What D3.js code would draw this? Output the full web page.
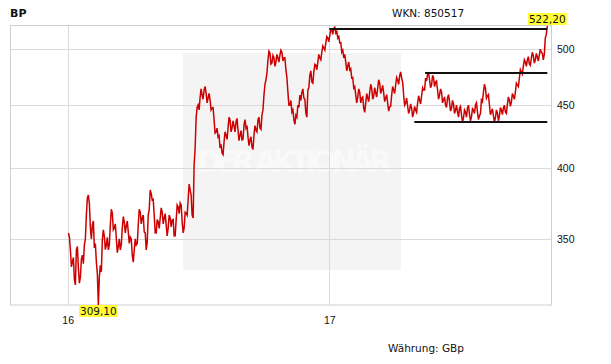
<!DOCTYPE html>
<html>
<head>
<meta charset="utf-8">
<script src="https://cdn.jsdelivr.net/npm/d3@7"></script>
<style>
  body { margin: 0; background: #fff; }
  svg { display: block; font-family: "DejaVu Sans", Verdana, sans-serif; }
</style>
</head>
<body>
<svg id="chart" width="611" height="364"></svg>
<script>
// BP closing prices (GBp), evenly spaced from Jan 2016 to Nov 2017
const startDate = '2016-01-02';
const endDate = '2017-11-02';
const prices = [
  353.9, 351, 342.8, 332, 335.1, 338, 323.9, 321, 342.8, 345,
  331.4, 322, 325.8, 337, 339.5, 334, 346.0, 350, 366.0, 378,
  380.1, 374, 357.3, 350, 359.2, 362, 344.1, 347, 335.1, 328,
  309.1, 326, 333.0, 329, 349.3, 356, 351.9, 343, 346.0, 351,
  342.8, 346, 359.2, 370, 367.4, 356, 357.3, 360, 350.6, 341,
  344.8, 350, 342.8, 346, 357.3, 365, 361.3, 354, 358.6, 362,
  354.6, 347, 351.2, 350, 339.5, 335, 342.8, 350, 346.0, 347,
  359.2, 370, 368.1, 360, 364.0, 366, 354.6, 354, 342.8, 348,
  366.0, 370, 383.7, 381, 376.5, 377, 366.0, 354, 353.9, 363,
  361.3, 357, 364.0, 371, 368.1, 360, 364.0, 367, 359.2, 352,
  357.3, 366, 364.0, 358, 362.7, 363, 351.9, 352, 362.7, 373,
  371.6, 367, 374.4, 373, 361.3, 354, 357.3, 368, 367.4, 366,
  376.5, 388, 383.7, 380, 366.0, 364, 402.1, 415, 439.3, 448,
  450.1, 446, 456.9, 464, 458.6, 455, 463.0, 466, 460.4, 452,
  456.1, 460, 454.4, 446, 447.6, 448, 437.7, 427, 427.8, 431,
  423.9, 425, 415.2, 418, 411.3, 410, 419.9, 428, 425.4, 422,
  431.1, 440, 437.7, 428, 431.1, 437, 432.7, 428, 436.0, 439,
  429.4, 421, 425.4, 429, 421.5, 422, 433.5, 438, 431.1, 433,
  423.9, 417, 421.5, 424, 416.0, 414, 425.4, 433, 429.4, 428,
  437.7, 440, 431.1, 430, 441.7, 446, 458.6, 468, 471.8, 478,
  489.9, 498, 496.3, 486, 487.1, 494, 491.7, 484, 488.0, 495,
  491.7, 488, 494.4, 499, 497.2, 489, 491.7, 492, 480.8, 474,
  461.2, 450, 450.1, 454, 444.2, 446, 437.7, 434, 441.7, 440,
  450.1, 448, 458.6, 454, 461.2, 464, 456.1, 455, 443.4, 440,
  463.0, 465, 476.2, 480, 470.0, 469, 478.9, 486, 485.2, 481,
  488.0, 495, 491.7, 490, 497.2, 503, 501.0, 499, 505.8, 512,
  510.6, 507, 513.4, 519, 518.3, 514, 520.2, 521, 515.3, 517,
  510.6, 512, 505.8, 506, 497.2, 499, 491.7, 495, 488.0, 480,
  484.4, 488, 480.8, 482, 473.6, 474, 464.7, 466, 458.6, 452,
  456.9, 464, 461.2, 452, 456.1, 457, 447.6, 444, 451.8, 460,
  456.1, 453, 461.2, 468, 464.7, 455, 457.8, 465, 460.4, 457,
  464.7, 472, 469.1, 460, 463.0, 467, 460.4, 453, 456.1, 459,
  451.8, 445, 448.5, 449, 458.6, 466, 463.0, 460, 467.4, 474,
  471.8, 468, 475.4, 479, 473.6, 470, 458.6, 450, 451.8, 456,
  449.3, 443, 445.9, 451, 447.6, 440, 443.4, 449, 445.9, 444,
  451.8, 458, 454.4, 451, 457.8, 465, 463.0, 463, 473.6, 471,
  477.1, 478, 471.8, 465, 467.4, 476, 473.6, 466, 470.0, 471,
  463.0, 455, 458.6, 464, 461.2, 452, 454.4, 457, 450.1, 448,
  456.1, 459, 452.6, 445, 447.6, 454, 450.9, 443, 445.9, 450,
  444.2, 440, 447.6, 449, 441.7, 436, 439.3, 446, 444.2, 440,
  447.6, 450, 442.5, 437, 440.2, 447, 445.9, 443, 450.1, 452,
  444.2, 438, 441.0, 443, 454.4, 453, 461.2, 468, 464.7, 456,
  457.8, 459, 450.1, 442, 444.2, 447, 441.0, 436, 439.3, 446,
  443.4, 437, 441.0, 448, 445.9, 442, 447.6, 450, 444.2, 443,
  450.9, 457, 454.4, 449, 452.6, 460, 457.8, 455, 461.2, 469,
  467.4, 466, 473.6, 481, 478.9, 477, 484.4, 490, 488.0, 484,
  489.9, 493, 486.2, 485, 491.7, 497, 493.6, 487, 489.9, 496,
  492.7, 489, 494.4, 500, 497.2, 496, 489.9, 495, 510.6, 514,
  522.2
];

// y axis tick values and x (year) ticks
const yTicks = [350, 400, 450, 500];
const yearTicks = ['2016-01-01', '2017-01-01'];

// horizontal trend lines: level and start date
const levels = [
  { value: 519.3, from: '2017-01-01' },
  { value: 478.0, from: '2017-05-15' },
  { value: 436.0, from: '2017-04-30' }
];

const title = 'BP';
const wkn = 'WKN: 850517';
const currency = 'Währung: GBp';

function renderChart() {
    const svg = d3.select('#chart');
    const plot = { left: 10, right: 551, top: 26, bottom: 305 };

    const parse = d3.timeParse('%Y-%m-%d');
    const t0 = parse(startDate), t1 = parse(endDate);
    const step = (t1 - t0) / (prices.length - 1);
    const data = prices.map((p, i) => ({ date: new Date(+t0 + i * step), value: p }));

    const x = d3.scaleTime()
        .domain(yearTicks.map(parse))
        .range([67.7, 329.3]);

    const y = d3.scaleLog()
        .domain([d3.min(prices), d3.max(prices)])
        .range([plot.bottom, plot.top]);

    // watermark box
    svg.append('rect')
        .attr('x', 183).attr('y', 53)
        .attr('width', 218).attr('height', 217)
        .attr('fill', '#f4f4f4');
    svg.append('text')
        .attr('x', 197).attr('y', 172)
        .attr('textLength', 195)
        .attr('font-size', 30)
        .attr('font-weight', 'bold')
        .attr('fill', '#f9f9f9')
        .text('DER AKTIONÄR');

    // grid
    svg.append('g')
        .selectAll('line')
        .data(yTicks)
        .enter().append('line')
        .attr('x1', plot.left).attr('x2', plot.right)
        .attr('y1', d => Math.round(y(d)) + 0.5)
        .attr('y2', d => Math.round(y(d)) + 0.5)
        .attr('stroke', '#dadada');

    svg.append('g')
        .selectAll('line')
        .data(yearTicks.map(parse))
        .enter().append('line')
        .attr('x1', d => Math.round(x(d)) + 0.5)
        .attr('x2', d => Math.round(x(d)) + 0.5)
        .attr('y1', plot.top).attr('y2', plot.bottom)
        .attr('stroke', '#dadada');

    svg.append('rect')
        .attr('x', plot.left + 0.5).attr('y', plot.top - 0.5)
        .attr('width', plot.right - plot.left).attr('height', plot.bottom - plot.top + 0.5)
        .attr('fill', 'none')
        .attr('stroke', '#cfcfcf');

    // axes (labels only)
    const yAxis = svg.append('g')
        .attr('transform', `translate(${plot.right},0)`)
        .call(d3.axisRight(y).tickValues(yTicks).tickFormat(d3.format('d')).tickSize(0).tickPadding(6));
    yAxis.select('.domain').remove();
    yAxis.selectAll('text').attr('font-size', 10.5).attr('fill', '#111').attr('font-family', null);

    const xAxis = svg.append('g')
        .attr('transform', `translate(0,${plot.bottom})`)
        .call(d3.axisBottom(x).tickValues(yearTicks.map(parse)).tickFormat(d3.timeFormat('%y')).tickSize(0).tickPadding(12));
    xAxis.select('.domain').remove();
    xAxis.selectAll('text').attr('font-size', 10.5).attr('fill', '#111').attr('font-family', null);

    // price line
    const line = d3.line()
        .x(d => x(d.date))
        .y(d => y(d.value));

    svg.append('path')
        .datum(data)
        .attr('fill', 'none')
        .attr('stroke', '#cc0000')
        .attr('stroke-width', 1.5)
        .attr('d', line);

    // trend levels
    svg.append('g')
        .selectAll('line')
        .data(levels)
        .enter().append('line')
        .attr('x1', d => x(parse(d.from)))
        .attr('x2', x(t1))
        .attr('y1', d => y(d.value))
        .attr('y2', d => y(d.value))
        .attr('stroke', '#111')
        .attr('stroke-width', 2);

    // min / max labels
    const fmt = v => d3.format('.2f')(v).replace('.', ',');
    const lo = data[d3.minIndex(data, d => d.value)];
    const hi = data[d3.maxIndex(data, d => d.value)];
    [[lo, plot.bottom], [hi, plot.top - 13]].forEach(([d, top]) => {
        const g = svg.append('g');
        const txt = g.append('text')
            .attr('x', x(d.date))
            .attr('y', top + 10)
            .attr('text-anchor', 'middle')
            .attr('font-size', 10.5)
            .attr('fill', '#111')
            .text(fmt(d.value));
        const w = txt.node().getComputedTextLength() + 2;
        g.insert('rect', 'text')
            .attr('x', x(d.date) - w / 2)
            .attr('y', top)
            .attr('width', w)
            .attr('height', 12)
            .attr('fill', '#ffff33');
    });

    // titles
    svg.append('text')
        .attr('x', 10).attr('y', 17)
        .attr('font-size', 11).attr('font-weight', 'bold')
        .attr('fill', '#111')
        .text(title);
    svg.append('text')
        .attr('x', 392).attr('y', 17)
        .attr('font-size', 10.5).attr('fill', '#111')
        .text(wkn);
    svg.append('text')
        .attr('x', 388).attr('y', 352)
        .attr('font-size', 10.5).attr('fill', '#111')
        .text(currency);
}

document.addEventListener('DOMContentLoaded', renderChart);
</script>
</body>
</html>
